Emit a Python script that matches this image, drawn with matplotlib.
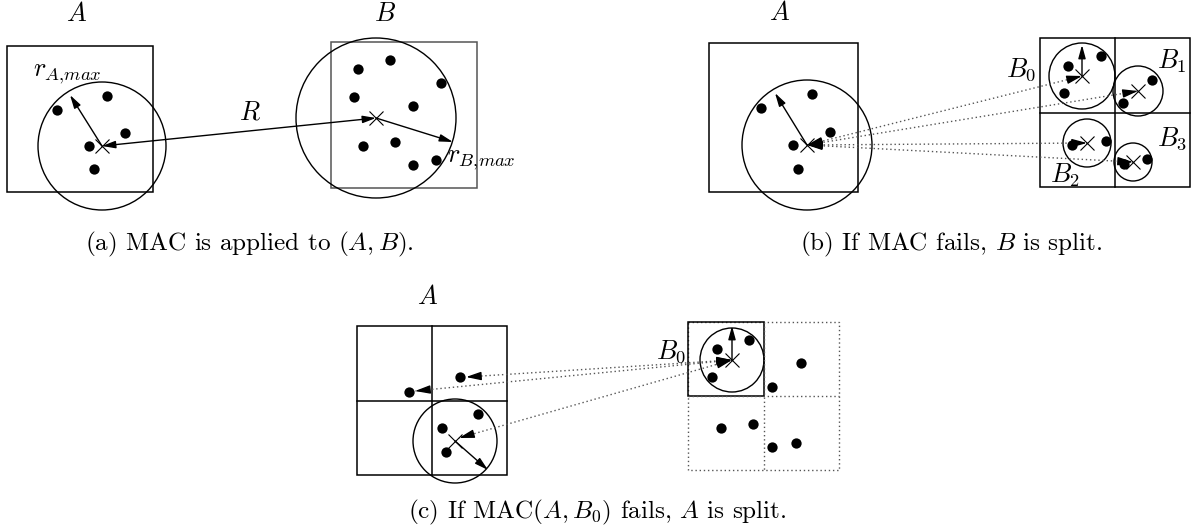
import matplotlib
matplotlib.use("Agg")
import matplotlib.pyplot as plt
from matplotlib.patches import Circle, Rectangle
import numpy as np

plt.rcParams["mathtext.fontset"] = "cm"
plt.rcParams["font.family"] = ["cmr10", "DejaVu Serif"]

# ---------------------------------------------------
# данные (координаты в пикселях картинки)
# ---------------------------------------------------

# (a) MAC is applied to (A, B)
a_boxA = (7, 46, 146, 146)
a_centerA = (102, 146)
a_radA = 64
a_ptsA = [(57, 110), (107, 96), (125, 133), (89, 146), (94, 169)]
a_rA_end = (70, 95)
a_boxB = (331, 42, 146, 146)
a_centerB = (376, 118)
a_radB = 80
a_ptsB = [(358, 69), (390, 60), (441, 83), (354, 97), (413, 106),
          (363, 146), (395, 142), (413, 165), (436, 160)]
a_rB_end = (453, 142)

# (b) If MAC fails, B is split
b_boxA = (709, 43, 149, 149)
b_centerA = (807, 145)
b_radA = 65
b_ptsA = [(761, 108), (812, 94), (830, 132), (793, 145), (798, 169)]
b_rA_end = (775, 93)
b_gridB = (1040, 38, 150, 149)
b_children = ["B_0", "B_1", "B_2", "B_3"]
b_child_centers = [(1082, 76), (1138, 91), (1087, 143), (1133, 162)]
b_child_rad = [33, 25, 24, 19]
b_child_pts = [[(1068, 66), (1101, 56), (1064, 93)],
               [(1152, 80), (1123, 103)],
               [(1072, 145), (1106, 141)],
               [(1124, 164), (1147, 159)]]
b_child_labels = [(1021, 70), (1172, 61), (1065, 175), (1172, 139)]

# (c) If MAC(A, B0) fails, A is split
c_gridA = (357, 326, 150, 149)
c_centerA = (455, 441)
c_radA = 42
c_ptsA = [(478, 414), (442, 428), (446, 452), (460, 377), (409, 392)]
c_rA_end = (488, 470)
c_gridB = (688, 322, 151, 148)
c_centerB0 = (732, 360)
c_radB0 = 32
c_ptsB0 = [(717, 349), (749, 340), (712, 377)]
c_rB0_end = (732, 326)
c_ptsB_other = [(801, 363), (772, 387), (721, 428), (753, 424), (772, 447), (796, 443)]
c_targets = [(466, 377), (415, 391), (459, 438)]

captions = ["(a) MAC is applied to $(A, B)$.",
            "(b) If MAC fails, $B$ is split.",
            "(c) If MAC$(A, B_0)$ fails, $A$ is split."]
caption_start = [(85, 244), (800, 244), (408, 512)]
caption_c_width = 379  # ширина подписи (c), по ней подбирается шрифт

# ---------------------------------------------------
# рисование
# ---------------------------------------------------

fig = plt.figure(figsize=(11.94, 5.28), dpi=100)
ax = fig.add_axes([0, 0, 1, 1])
ax.set_xlim(0, 1194)
ax.set_ylim(528, 0)
ax.axis("off")

LBL = 19
HEAD = "-|>,head_length=0.8,head_width=0.22"


def arrow(p, q, lw=1.0):
    ax.annotate("", xy=q, xytext=p,
                arrowprops=dict(arrowstyle=HEAD, color="k", lw=lw,
                                shrinkA=0, shrinkB=0, mutation_scale=10))


def head(tip, frm, size=10):
    # наконечник стрелки у точки tip, направленный от frm
    d = np.array(tip, float) - np.array(frm, float)
    d = d / np.linalg.norm(d)
    start = np.array(tip) - d * size
    ax.annotate("", xy=tip, xytext=start,
                arrowprops=dict(arrowstyle="-|>,head_length=0.9,head_width=0.25",
                                color="k", lw=1.0, shrinkA=0, shrinkB=0,
                                mutation_scale=10))


def dotted(p, q):
    ax.plot([p[0], q[0]], [p[1], q[1]], ls=(0, (1, 2)), color="#555555", lw=1.0)


def box(r, ls="-", color="k", lw=1.1):
    ax.add_patch(Rectangle((r[0], r[1]), r[2], r[3], fill=False,
                           ec=color, lw=lw, ls=ls))


def grid(r, ls="-", color="k", lw=1.1):
    box(r, ls, color, lw)
    x0, y0, w, h = r
    ax.plot([x0 + w / 2, x0 + w / 2], [y0, y0 + h], ls=ls, color=color, lw=lw)
    ax.plot([x0, x0 + w], [y0 + h / 2, y0 + h / 2], ls=ls, color=color, lw=lw)


def circle(c, r):
    ax.add_patch(Circle(c, r, fill=False, ec="k", lw=1.0))


def dots(pts):
    pts = np.array(pts)
    ax.scatter(pts[:, 0], pts[:, 1], s=55, color="k", zorder=5, lw=0)


def cross(c):
    ax.plot(c[0], c[1], marker="x", ms=10, color="k", mew=0.8, zorder=6)


# (a)
ax.text(77, 14, "$A$", fontsize=LBL, ha="center", va="center")
ax.text(385, 14, "$B$", fontsize=LBL, ha="center", va="center")
box(a_boxA)
circle(a_centerA, a_radA)
dots(a_ptsA)
cross(a_centerA)
arrow(a_centerA, a_rA_end)
ax.text(33, 74, "$r_{A{,}max}$", fontsize=LBL, ha="left", va="center")
ax.annotate("", xy=a_centerA, xytext=a_centerB,
            arrowprops=dict(arrowstyle="<|-|>,head_length=0.8,head_width=0.22",
                            color="k", lw=1.0, shrinkA=0, shrinkB=0,
                            mutation_scale=10))
ax.text(250, 113, "$R$", fontsize=LBL, ha="center", va="center")
box(a_boxB, color="#555555")
circle(a_centerB, a_radB)
dots(a_ptsB)
cross(a_centerB)
arrow(a_centerB, a_rB_end)
ax.text(447, 160, "$r_{B{,}max}$", fontsize=LBL, ha="left", va="center")

# (b)
ax.text(780, 13, "$A$", fontsize=LBL, ha="center", va="center")
box(b_boxA)
circle(b_centerA, b_radA)
dots(b_ptsA)
cross(b_centerA)
arrow(b_centerA, b_rA_end)
grid(b_gridB)
for name, c, r, pts, lp in zip(b_children, b_child_centers, b_child_rad,
                               b_child_pts, b_child_labels):
    circle(c, r)
    dots(pts)
    cross(c)
    dotted(b_centerA, c)
    head(b_centerA, c)
    head(c, b_centerA)
    ax.text(lp[0], lp[1], "$" + name + "$", fontsize=LBL, ha="center", va="center")
arrow(b_child_centers[0], (b_child_centers[0][0], 45))

# (c)
ax.text(428, 297, "$A$", fontsize=LBL, ha="center", va="center")
grid(c_gridA)
circle(c_centerA, c_radA)
dots(c_ptsA)
cross(c_centerA)
arrow(c_centerA, c_rA_end)
grid(c_gridB, ls=(0, (1, 2)), color="#555555", lw=1.0)
box((c_gridB[0], c_gridB[1], c_gridB[2] / 2, c_gridB[3] / 2))
circle(c_centerB0, c_radB0)
dots(c_ptsB0)
dots(c_ptsB_other)
cross(c_centerB0)
arrow(c_centerB0, c_rB0_end)
ax.text(671, 352, "$B_0$", fontsize=LBL, ha="center", va="center")
for t in c_targets:
    dotted(c_centerB0, t)
    head(t, c_centerB0)
    head(c_centerB0, t)

# подписи: общий размер шрифта по ширине подписи (c)
renderer = fig.canvas.get_renderer()
probe = ax.text(0, 0, captions[2], fontsize=16)
cap_size = 16 * caption_c_width / probe.get_window_extent(renderer).width
probe.remove()
for txt, (x0, y) in zip(captions, caption_start):
    ax.text(x0, y, txt, fontsize=cap_size, ha="left", va="center")

fig.savefig("out.png", dpi=100)
